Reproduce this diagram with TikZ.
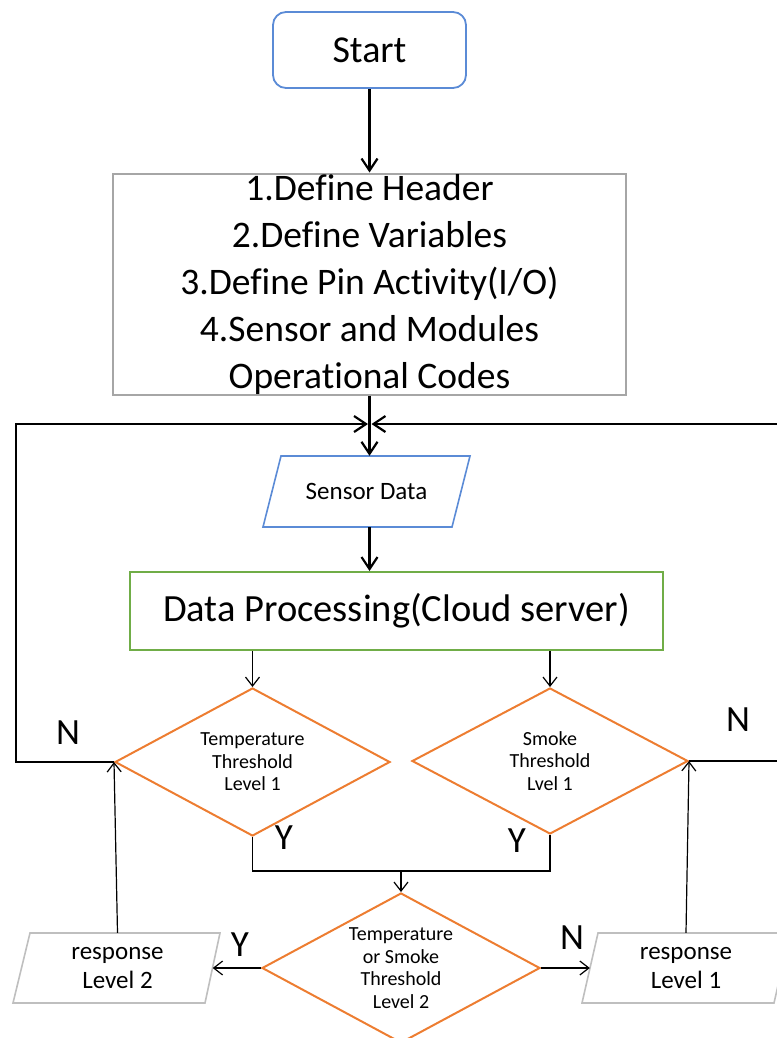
\documentclass[tikz,border=0pt]{standalone}
\usepackage{fontspec}
\setmainfont{Carlito}[Ligatures=CommonOff]
\usetikzlibrary{shapes.geometric,arrows.meta}
\definecolor{sblue}{HTML}{5B8BD6}
\definecolor{sgreen}{HTML}{70AD47}
\definecolor{sorange}{HTML}{ED7D31}
\definecolor{sgray}{HTML}{A6A6A6}
\definecolor{lgray}{HTML}{BFBFBF}
\begin{document}
\begin{tikzpicture}[x=1pt,y=-1pt,
  thickarrow/.style={line width=2.4pt,-{Straight Barb[length=12pt,width=16pt,line width=2.2pt]}},
  thickline/.style={line width=2.4pt},
  thinarrow/.style={line width=1.2pt,-{Straight Barb[length=9pt,width=14pt,line width=1.2pt]}},
  thinline/.style={line width=1.2pt},
  decision/.style={diamond,draw=sorange,line width=2pt,aspect=1.86,inner sep=0pt,align=center,font=\fontsize{20}{22.5}\selectfont},
  paratext/.style={inner sep=0pt,align=center,minimum height=70pt},
  lbl/.style={font=\fontsize{37}{40}\selectfont,inner sep=0pt}]
\useasboundingbox (0,0) rectangle (776,1038);
\node[draw=sblue,line width=1.8pt,rounded corners=13pt,minimum width=193pt,minimum height=76pt,inner sep=0pt,font=\fontsize{38}{44}\selectfont] (start) at (369.5,50) {Start};
\node[draw=sgray,line width=2pt,minimum width=513pt,minimum height=221pt,inner sep=0pt,align=center,font=\fontsize{37.5}{47}\selectfont] (defs) at (369.5,284) {1.Define Header\\2.Define Variables\\3.Define Pin Activity(I/O)\\4.Sensor and Modules\\Operational Codes};
% Sensor Data parallelogram
\draw[sblue,line width=1.6pt] (281,456) -- (470,456) -- (452,527) -- (263,527) -- cycle;
\node[paratext,minimum width=189pt,minimum height=71pt,font=\fontsize{25}{28}\selectfont] (sd) at (366.5,491.5) {Sensor Data};
\node[draw=sgreen,line width=2pt,minimum width=533pt,minimum height=78pt,inner sep=0pt,font=\fontsize{38.5}{42}\selectfont] (dp) at (396.5,611) {Data Processing(Cloud server)};
\node[decision,minimum width=275pt,minimum height=148pt] (d1) at (252.5,762) {Temperature\\Threshold\\Level 1};
\node[decision,minimum width=276pt,minimum height=146pt] (d2) at (550,761) {Smoke\\Threshold\\Lvel 1};
\node[decision,minimum width=278pt,minimum height=150pt] (d3) at (401,968) {Temperature\\or Smoke\\Threshold\\Level 2};
% response parallelograms
\draw[lgray,line width=1.6pt] (30,933) -- (220,933) -- (205,1003) -- (13,1003) -- cycle;
\node[paratext,minimum width=190pt,font=\fontsize{25}{29}\selectfont] (r2) at (117.5,968) {response\\Level 2};
\draw[lgray,line width=1.6pt] (598,933) -- (790,933) -- (774,1003) -- (582,1003) -- cycle;
\node[paratext,minimum width=192pt,font=\fontsize{25}{29}\selectfont] (r1) at (686,968) {response\\Level 1};
\coordinate (mL) at (368,424);
\coordinate (mR) at (371.5,424);
\coordinate (lc) at (16,424);
\coordinate (rc) at (778,424);
\coordinate (j) at (401,871);
\node[lbl] (nl) at (68,733) {N};
\node[lbl] (nr) at (738,720) {N};
\node[lbl] (y1) at (284,838) {Y};
\node[lbl] (y2) at (517,841) {Y};
\node[lbl] (y3) at (240,945) {Y};
\node[lbl] (n3) at (572,938) {N};
\draw[thickarrow] (start) -- (defs);
\draw[thickarrow] (defs.south) -- (defs.south |- sd.north);
\draw[thickarrow] (d1.west) -| (lc) -- (mL);
\draw[thickarrow] (d2.east) -| (rc) -- (mR);
\draw[thickarrow] (sd.south -| defs.south) -- (defs.south |- dp.north);
\draw[thinarrow] (d1.north |- dp.south) -- (d1.north);
\draw[thinarrow] (d2.north |- dp.south) -- (d2.north);
\draw[thinline] (d1.south) |- (j) -| (d2.south);
\draw[thinarrow] (j) -- (d3.north);
\draw[thinarrow] (d3.west) -- (r2.east);
\draw[thinarrow] (d3.east) -- (r1.west);
\draw[thinarrow] (r2.north) -- (d1.west);
\draw[thinarrow] (r1.north) -- (d2.east);
\end{tikzpicture}
\end{document}
